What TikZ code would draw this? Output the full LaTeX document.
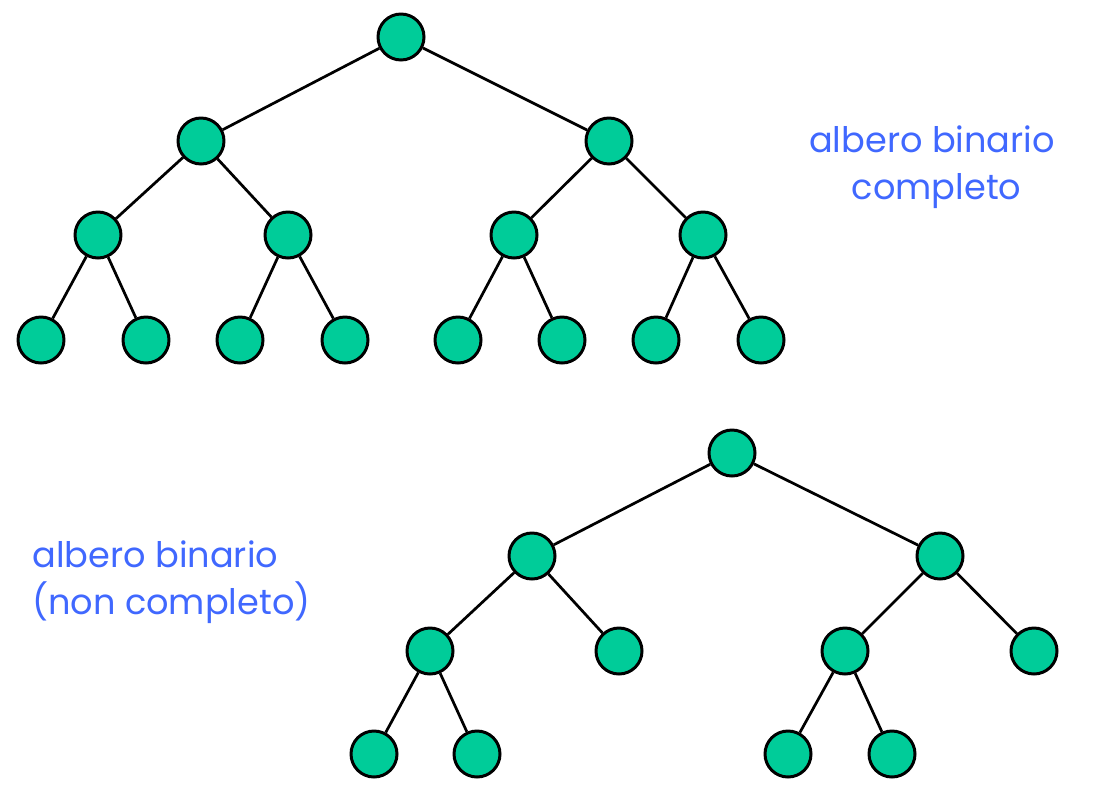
\documentclass[tikz,border=0pt]{standalone}
\usepackage{fontspec}
\setmainfont{Poppins}
\definecolor{nodegreen}{RGB}{0,204,153}
\definecolor{labelblue}{RGB}{64,104,255}
\tikzset{
  nd/.style={circle,draw=black,fill=nodegreen,line width=1.7pt,minimum size=0.92cm,inner sep=0pt},
  edge/.style={line width=1.55pt},
  lbl/.style={text=labelblue,font=\fontsize{20}{27}\selectfont,inner sep=0pt}
}
\begin{document}
\begin{tikzpicture}[x=0.02cm,y=-0.02cm]
\useasboundingbox (0,0) rectangle (1095,785);
% albero completo
\node[nd] (r) at (401,37) {};
\node[nd] (a) at (201,141) {};
\node[nd] (b) at (609,141) {};
\node[nd] (aa) at (98,235) {};
\node[nd] (ab) at (288,235) {};
\node[nd] (ba) at (514,235) {};
\node[nd] (bb) at (703,235) {};
\node[nd] (aaa) at (41,340) {};
\node[nd] (aab) at (146,340) {};
\node[nd] (aba) at (240,340) {};
\node[nd] (abb) at (345,340) {};
\node[nd] (baa) at (458,340) {};
\node[nd] (bab) at (562,340) {};
\node[nd] (bba) at (656,340) {};
\node[nd] (bbb) at (761,340) {};
\foreach \p/\c in {r/a,r/b,a/aa,a/ab,b/ba,b/bb,aa/aaa,aa/aab,ab/aba,ab/abb,ba/baa,ba/bab,bb/bba,bb/bbb}
  \draw[edge] (\p)--(\c);
\node[lbl,align=center] (t1) at (932,167) {albero binario\\ \ completo};
% albero non completo
\node[nd] (s) at (732,453) {};
\node[nd] (c) at (532,556) {};
\node[nd] (d) at (940,556) {};
\node[nd] (ca) at (430,651) {};
\node[nd] (cb) at (619,651) {};
\node[nd] (da) at (845,651) {};
\node[nd] (db) at (1034,651) {};
\node[nd] (caa) at (374,754) {};
\node[nd] (cab) at (477,754) {};
\node[nd] (daa) at (788,754) {};
\node[nd] (dab) at (892,754) {};
\foreach \p/\c in {s/c,s/d,c/ca,c/cb,d/da,d/db,ca/caa,ca/cab,da/daa,da/dab}
  \draw[edge] (\p)--(\c);
\node[lbl,align=left,anchor=west] (t2) at (32,582) {albero binario\\(non completo)};
\end{tikzpicture}
\end{document}
